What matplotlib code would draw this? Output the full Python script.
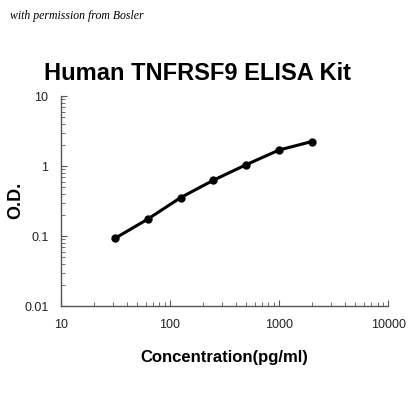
import matplotlib
matplotlib.use("Agg")
import matplotlib.pyplot as plt
from matplotlib.ticker import FixedLocator, LogLocator, NullFormatter

# standard curve values
conc = [31.25, 62.5, 125, 250, 500, 1000, 2000]
od = [0.093, 0.175, 0.355, 0.63, 1.05, 1.70, 2.25]

x_ticks = [10, 100, 1000, 10000]
x_labels = ["10", "100", "1000", "10000"]
y_ticks = [0.01, 0.1, 1, 10]
y_labels = ["0.01", "0.1", "1", "10"]

plt.rcParams['font.family'] = ['Liberation Sans', 'DejaVu Sans']

fig = plt.figure(figsize=(4.2, 4.2), dpi=100)
ax = fig.add_axes([0.145, 0.271, 0.779, 0.500])

ax.plot(conc, od, color="black", linewidth=2.2, marker="o", markersize=5)

ax.set_xscale("log")
ax.set_yscale("log")
ax.set_xlim(10, 10000)
ax.set_ylim(0.01, 10)

ax.xaxis.set_major_locator(FixedLocator(x_ticks))
ax.set_xticklabels(x_labels)
ax.yaxis.set_major_locator(FixedLocator(y_ticks))
ax.set_yticklabels(y_labels)
ax.xaxis.set_minor_locator(LogLocator(base=10, subs=range(2, 10)))
ax.yaxis.set_minor_locator(LogLocator(base=10, subs=range(2, 10)))
ax.xaxis.set_minor_formatter(NullFormatter())
ax.yaxis.set_minor_formatter(NullFormatter())

for s in ["top", "right"]:
    ax.spines[s].set_visible(False)
for s in ["left", "bottom"]:
    ax.spines[s].set_color("#555555")
    ax.spines[s].set_linewidth(1.0)

ax.tick_params(which="both", direction="in", color="#555555", labelsize=9, labelcolor="#222222")
ax.tick_params(which="major", length=4, pad=9)
ax.tick_params(which="minor", length=3)

ax.set_xlabel("Concentration(pg/ml)", fontsize=12, fontweight="bold", labelpad=14)
ax.set_ylabel("O.D.", fontsize=13, fontweight="bold", va="center")
ax.yaxis.set_label_coords(-0.138, 0.505)

fig.text(0.47, 0.826, "Human TNFRSF9 ELISA Kit", ha="center", va="center",
         fontsize=17, fontweight="bold")
fig.text(0.025, 0.962, "with permission from Bosler", ha="left", va="center",
         fontsize=8.5, style="italic", family=["Liberation Serif", "DejaVu Serif"])

fig.savefig("out.png", dpi=100)
